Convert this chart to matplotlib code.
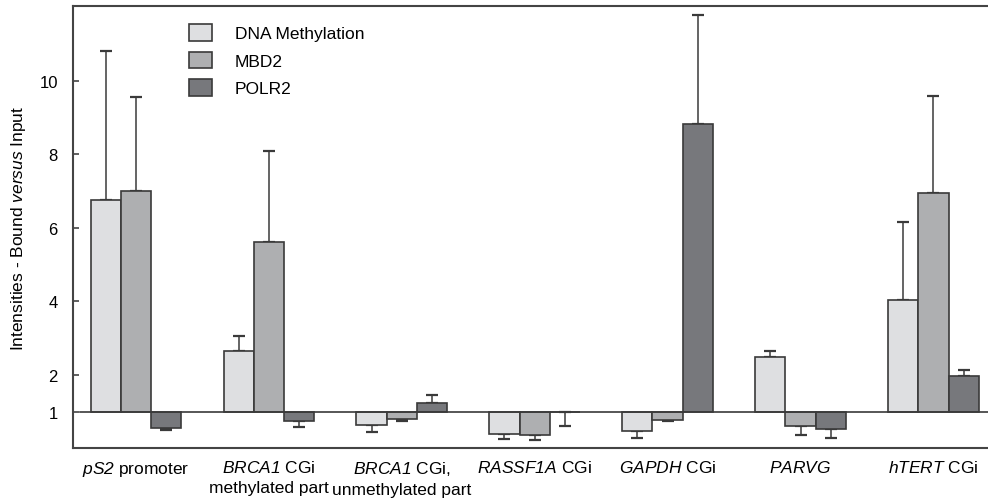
import numpy as np
import matplotlib.pyplot as plt
from matplotlib.patches import Patch

plt.rcParams['font.family'] = ['Liberation Sans', 'DejaVu Sans']
plt.rcParams['mathtext.fontset'] = 'custom'
plt.rcParams['mathtext.rm'] = 'Liberation Sans:italic'
plt.rcParams['mathtext.it'] = 'Liberation Sans:italic'

groups = [r'$\mathrm{pS2}$ promoter',
          '$\\mathrm{BRCA1}$ CGi\nmethylated part',
          '$\\mathrm{BRCA1}$ CGi,\nunmethylated part',
          r'$\mathrm{RASSF1A}$ CGi',
          r'$\mathrm{GAPDH}$ CGi',
          r'$\mathrm{PARVG}$',
          r'$\mathrm{hTERT}$ CGi']
series = ['DNA Methylation', 'MBD2', 'POLR2']

# values relative to the baseline 1 (bound vs input)
dna = [6.77, 2.65, 0.63, 0.40, 0.49, 2.49, 4.04]
dna_err = [4.03, 0.41, 0.18, 0.13, 0.20, 0.16, 2.11]
mbd2 = [7.00, 5.61, 0.79, 0.36, 0.78, 0.60, 6.96]
mbd2_err = [2.56, 2.47, 0.04, 0.12, 0.03, 0.24, 2.63]
polr2 = [0.565, 0.74, 1.245, 0.98, 8.82, 0.54, 1.98]
polr2_err = [0.05, 0.16, 0.21, 0.38, 2.97, 0.26, 0.15]

colors = ['#dedfe1', '#aeafb1', '#77787c']
edge = '#3a3a3a'
base = 1.0

fig = plt.figure(figsize=(9.88, 5.02), dpi=100)
ax = fig.add_axes([0.074, 0.106, 0.926, 0.880])

x = np.arange(len(groups))
w = 0.226
for k, (vals, errs) in enumerate([(dna, dna_err), (mbd2, mbd2_err), (polr2, polr2_err)]):
    vals = np.array(vals)
    errs = np.array(errs)
    pos = x + (k - 1) * w
    ax.bar(pos, vals - base, bottom=base, width=w, color=colors[k],
           edgecolor=edge, linewidth=1.2, zorder=2)
    # error bars point away from the baseline
    lower = np.where(vals < base, errs, 0)
    upper = np.where(vals >= base, errs, 0)
    ax.errorbar(pos, vals, yerr=[lower, upper], fmt='none', ecolor=edge,
                elinewidth=1.1, capsize=4, capthick=1.6, zorder=1)

ax.axhline(base, xmin=0.007, xmax=1, color=edge, linewidth=1.2, zorder=3)

ax.set_xlim(-0.47, 6.41)
ax.set_ylim(0.02, 12.03)
ax.set_yticks([1, 2, 4, 6, 8, 10])
ax.set_xticks(x)
ax.set_xticklabels(groups, fontsize=12.5)
ax.tick_params(axis='x', length=0, pad=8)
ax.tick_params(axis='y', direction='in', length=4, width=1.2, color='#444444',
               labelsize=12, pad=11)
for lbl in ax.get_xticklabels():
    lbl.set_linespacing(1.4)

ax.spines['right'].set_visible(False)
for s in ['left', 'top', 'bottom']:
    ax.spines[s].set_linewidth(1.5)
    ax.spines[s].set_color('#444444')

ax.set_ylabel(r'Intensities - Bound $\mathrm{versus}$ Input', fontsize=12.5, labelpad=8)

handles = [Patch(facecolor=colors[k], edgecolor=edge, linewidth=1.2) for k in range(3)]
ax.legend(handles, series, loc='upper left', bbox_to_anchor=(0.11, 0.995),
          frameon=False, fontsize=12.5, handlelength=1.3, handleheight=1.1,
          handletextpad=1.3, labelspacing=0.6)

fig.savefig('out.png', dpi=100)
